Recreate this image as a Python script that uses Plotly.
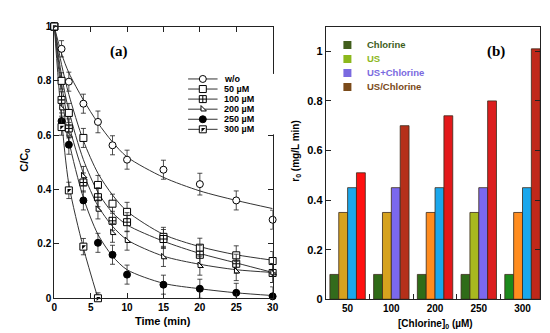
import plotly.graph_objects as go

# ---------------- data: panel (a) ----------------
time = [0, 1, 2, 4, 6, 8, 10, 15, 20, 25, 30]
time_300 = [0, 1, 2, 4, 6]
series_names = ["w/o", "50 µM", "100 µM", "200 µM", "250 µM", "300 µM"]

c_wo = [1, 0.918, 0.797, 0.716, 0.649, 0.563, 0.51, 0.473, 0.42, 0.36, 0.289]
c_50 = [1, 0.80, 0.682, 0.59, 0.417, 0.348, 0.318, 0.226, 0.186, 0.158, 0.137]
c_100 = [1, 0.73, 0.625, 0.426, 0.372, 0.285, 0.28, 0.218, 0.16, 0.127, 0.093]
c_200 = [1, 0.70, 0.60, 0.45, 0.327, 0.241, 0.212, 0.152, 0.12, 0.10, 0.093]
c_250 = [1, 0.652, 0.565, 0.36, 0.204, 0.16, 0.087, 0.05, 0.035, 0.02, 0.007]
c_300 = [1, 0.63, 0.397, 0.19, 0.0]

e_wo = [0, 0.03, 0.035, 0.035, 0.04, 0.035, 0.035, 0.035, 0.04, 0.035, 0.035]
e_50 = [0, 0.03, 0.035, 0.035, 0.035, 0.035, 0.035, 0.035, 0.035, 0.035, 0.035]
e_100 = [0, 0.03, 0.035, 0.035, 0.035, 0.035, 0.035, 0.035, 0.035, 0.035, 0.035]
e_200 = [0, 0.03, 0.035, 0.035, 0.035, 0.035, 0.035, 0.035, 0.035, 0.035, 0.035]
e_250 = [0, 0.03, 0.035, 0.035, 0.035, 0.035, 0.035, 0.035, 0.035, 0.035, 0.035]
e_300 = [0, 0.03, 0.03, 0.03, 0.02]

# fitted curves
f_wo = [1, 0.90, 0.83, 0.73, 0.645, 0.575, 0.52, 0.445, 0.395, 0.36, 0.33]
f_50 = [1, 0.86, 0.75, 0.58, 0.46, 0.38, 0.32, 0.235, 0.19, 0.16, 0.14]
f_100 = [1, 0.82, 0.69, 0.51, 0.39, 0.315, 0.27, 0.21, 0.165, 0.13, 0.095]
f_200 = [1, 0.79, 0.64, 0.46, 0.34, 0.265, 0.215, 0.155, 0.125, 0.105, 0.095]
f_250 = [1, 0.75, 0.58, 0.37, 0.235, 0.155, 0.105, 0.055, 0.035, 0.02, 0.01]
f_300 = [1, 0.66, 0.42, 0.185, 0.0]

# ---------------- data: panel (b) ----------------
conc_labels = ["50", "100", "200", "250", "300"]
bar_names = ["Chlorine", "US", "US+Chlorine", "US/Chlorine"]
r_chlorine = [0.10, 0.10, 0.10, 0.10, 0.10]
r_us = [0.35, 0.35, 0.35, 0.35, 0.35]
r_us_cl = [0.45, 0.45, 0.45, 0.45, 0.45]
r_us_over_cl = [0.51, 0.70, 0.74, 0.80, 1.01]

# ---------------- styles ----------------
INK = "#222222"
LINE = "#333333"
FONT = "Liberation Sans, Arial, sans-serif"

sym = {
    "w/o": dict(symbol="circle", color="white", size=7),
    "50 µM": dict(symbol="square", color="white", size=7),
    "100 µM": dict(symbol="square-cross", color="white", size=7),
    "200 µM": dict(symbol="triangle-sw", color="white", size=6),
    "250 µM": dict(symbol="circle", color="black", size=7),
    "300 µM": dict(symbol="square", color="white", size=7),
}

bar_colors = {
    "Chlorine": ["#336b1c", "#2f6a16", "#2f6c18", "#2f6c18", "#1b8a1b"],
    "US": ["#d6a21e", "#d6a21e", "#ff8c1e", "#a8b820", "#ff8c1e"],
    "US+Chlorine": ["#1aa7ec", "#7b68ee", "#1aa7ec", "#7b68ee", "#1aa7ec"],
    "US/Chlorine": ["#ff1010", "#b5301a", "#e3181a", "#dc1e1e", "#c0281a"],
}
legend_b_colors = ["#415e1c", "#8cb81c", "#7a6ae0", "#7a4a1a"]

fig = go.Figure()

# ---------------- panel (a) ----------------
meas = [(c_wo, e_wo, f_wo, time), (c_50, e_50, f_50, time), (c_100, e_100, f_100, time),
        (c_200, e_200, f_200, time), (c_250, e_250, f_250, time), (c_300, e_300, f_300, time_300)]

for name, (c, e, f, t) in zip(series_names, meas):
    fig.add_trace(go.Scatter(x=t, y=f, mode="lines", line=dict(color=LINE, width=1, shape="spline", smoothing=0.8),
                             xaxis="x", yaxis="y", showlegend=False, hoverinfo="skip", cliponaxis=True))

for name, (c, e, f, t) in zip(series_names, meas):
    s = sym[name]
    fig.add_trace(go.Scatter(
        x=t, y=c, mode="markers", name=name, showlegend=False, cliponaxis=False,
        error_y=dict(type="data", array=e, visible=True, color=INK, thickness=0.8, width=2.5),
        marker=dict(symbol=s["symbol"], size=s["size"], color=s["color"], line=dict(color="black", width=1)),
        xaxis="x", yaxis="y"))
    if name == "300 µM":
        fig.add_trace(go.Scatter(x=t, y=c, mode="markers", showlegend=False, cliponaxis=False,
                                 marker=dict(symbol="triangle-nw", size=4.4, color="black", line=dict(width=0)),
                                 xaxis="x", yaxis="y", hoverinfo="skip"))

# manual legend (a) in helper axes x3/y3 (row index = series index)
for i, name in enumerate(series_names):
    s = sym[name]
    fig.add_trace(go.Scatter(x=[0, 1], y=[i, i], mode="lines", line=dict(color=LINE, width=1),
                             xaxis="x3", yaxis="y3", showlegend=False, hoverinfo="skip"))
    fig.add_trace(go.Scatter(x=[0.5], y=[i], mode="markers", showlegend=False, hoverinfo="skip",
                             marker=dict(symbol=s["symbol"], size=s["size"], color=s["color"],
                                         line=dict(color="black", width=1)),
                             xaxis="x3", yaxis="y3"))
    if name == "300 µM":
        fig.add_trace(go.Scatter(x=[0.5], y=[i], mode="markers", showlegend=False, hoverinfo="skip",
                                 marker=dict(symbol="triangle-nw", size=4.4, color="black", line=dict(width=0)),
                                 xaxis="x3", yaxis="y3"))
    fig.add_annotation(x=1.1667, y=i, xref="x3", yref="y3", text=name, showarrow=False, xanchor="left",
                       yanchor="middle", font=dict(family=FONT, size=9, color="black", weight="bold"))

# ---------------- panel (b) ----------------
pos = list(range(len(conc_labels)))
for name, vals in zip(bar_names, [r_chlorine, r_us, r_us_cl, r_us_over_cl]):
    fig.add_trace(go.Bar(x=pos, y=vals, name=name, showlegend=False,
                         marker=dict(color=bar_colors[name], line=dict(color="#3a2a1a", width=0.8)),
                         xaxis="x2", yaxis="y2"))

for i, (name, col) in enumerate(zip(bar_names, legend_b_colors)):
    fig.add_trace(go.Scatter(x=[0.5], y=[i], mode="markers", showlegend=False, hoverinfo="skip",
                             marker=dict(symbol="square", size=8, color=col, line=dict(width=0)),
                             xaxis="x4", yaxis="y4"))
    fig.add_annotation(x=1.786, y=i, xref="x4", yref="y4", text=name, showarrow=False, xanchor="left",
                       yanchor="middle", font=dict(family=FONT, size=9.5, color=col, weight="bold"))

# ---------------- layout ----------------
axis_common = dict(showline=True, linecolor=INK, linewidth=1, mirror="ticks", ticks="inside",
                   ticklen=5, tickcolor=INK, showgrid=False, zeroline=False)

fig.update_layout(
    width=550, height=333, autosize=False,
    margin=dict(l=0, r=0, t=0, b=0),
    paper_bgcolor="white", plot_bgcolor="white",
    barmode="group", bargap=0.19, bargroupgap=0,
    font=dict(family=FONT, color="black"),
    xaxis=dict(domain=[0.08, 0.4836], anchor="y", range=[0, 30], tickmode="linear", tick0=0, dtick=5,
               tickfont=dict(size=10, weight="bold"), **axis_common),
    yaxis=dict(domain=[0.1141, 0.958], anchor="x", range=[0, 1], tickmode="linear", tick0=0, dtick=0.2,
               tickfont=dict(size=10, weight="bold"), **axis_common),
    xaxis2=dict(domain=[0.5818, 0.9782], anchor="y2", range=[-0.5, 4.405], tickmode="array",
                tickvals=pos, ticktext=conc_labels, showline=True, linecolor=INK, linewidth=1,
                mirror=True, ticks="", showgrid=False, zeroline=False,
                tickfont=dict(size=10, weight="bold"),
                minor=dict(tickvals=[p + 0.5 for p in pos[:-1]], ticks="inside", ticklen=5, tickcolor=INK,
                           showgrid=False)),
    yaxis2=dict(domain=[0.1111, 0.958], anchor="x2", range=[0, 1.1], tickmode="linear", tick0=0, dtick=0.2,
                tickfont=dict(size=11, weight="bold"), **axis_common),
    # helper axes for the hand-built legends (rows = series index)
    xaxis3=dict(domain=[180 / 550, 270 / 550], anchor="y3", range=[0, 3], visible=False, fixedrange=True),
    yaxis3=dict(domain=[0.6231, 0.8108], anchor="x3", range=[5.5, -0.5], visible=False, fixedrange=True),
    xaxis4=dict(domain=[335 / 550, 425 / 550], anchor="y4", range=[0, 90 / 14], visible=False, fixedrange=True),
    yaxis4=dict(domain=[0.7485, 0.9227], anchor="x4", range=[3.5, -0.5], visible=False, fixedrange=True),
)

title_font = dict(family=FONT, size=11, color="black", weight="bold")
ann = dict(xref="paper", yref="paper", showarrow=False, xanchor="center", yanchor="middle")
fig.add_annotation(x=14 / 550, y=0.5435, text="C/C<sub>0</sub>", textangle=-90, font=title_font, **ann)
fig.add_annotation(x=0.2818, y=0.042, text="Time (min)", font=title_font, **ann)
fig.add_annotation(x=290 / 550, y=0.573, text="r<sub>0</sub> (mg/L min)", textangle=-90,
                   font=dict(family=FONT, size=10, color="black", weight="bold"), **ann)
fig.add_annotation(x=0.785, y=0.033, text="[Chlorine]<sub>0</sub> (µM)",
                   font=dict(family=FONT, size=10, color="black", weight="bold"), **ann)
panel_font = dict(family="Liberation Serif, serif", size=15, color="black", weight="bold")
fig.add_annotation(x=0.2, y=0.88, text="(a)", font=panel_font, **ann)
fig.add_annotation(x=0.896, y=0.88, text="(b)", font=panel_font, **ann)

fig.write_html("out.html")
